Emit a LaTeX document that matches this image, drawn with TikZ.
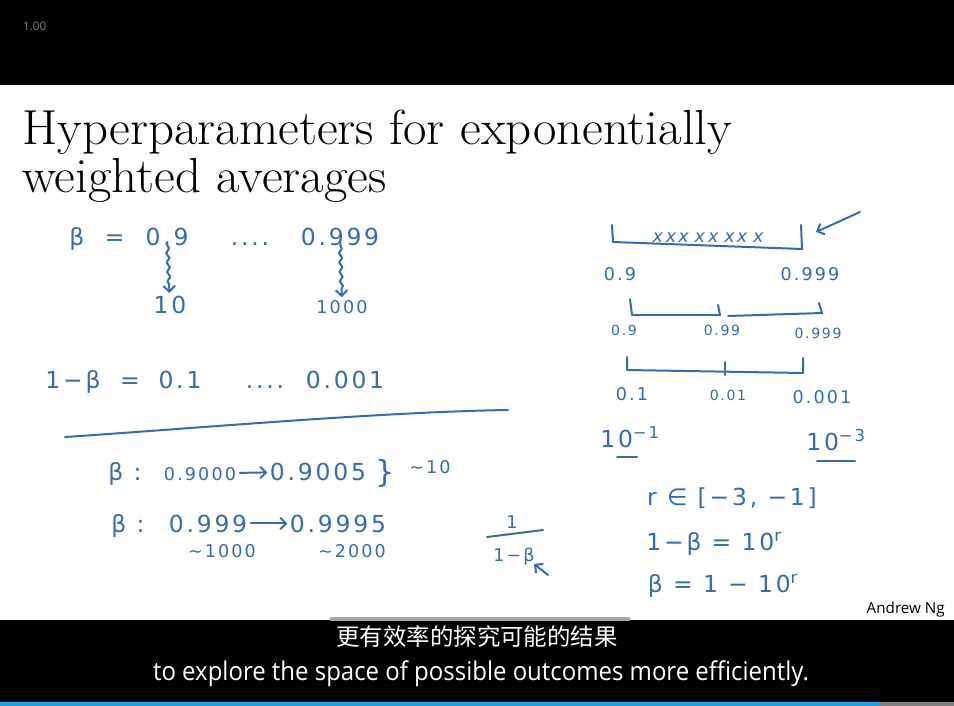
\documentclass[tikz,border=0pt]{standalone}
\usepackage{fontspec}
\newfontfamily\hand[LetterSpace=12]{DejaVu Sans}
\newfontfamily\subs{Open Sans}
\newfontfamily\cjk{Noto Sans CJK SC}
\usetikzlibrary{arrows.meta,decorations.pathmorphing}
\definecolor{ink}{RGB}{52,108,180}
\definecolor{barblue}{RGB}{30,160,225}
\begin{document}
\begin{tikzpicture}[x=0.03cm,y=-0.03cm]
    \tikzset{%
        h/.style={text=ink, font=\hand\fontsize{20}{22}\selectfont, inner sep=0pt, anchor=base},
        hs/.style={h, font=\hand\fontsize{15}{17}\selectfont},
        ht/.style={h, font=\hand\fontsize{12}{14}\selectfont},
        l/.style={draw=ink, line width=1.7pt, line cap=round, line join=round},
        e/.style={l, -{Straight Barb[length=5pt,width=10pt]}, shorten <=3pt, shorten >=2pt},
        w/.style={e, decorate, decoration={snake, amplitude=1.3pt, segment length=8pt, post length=7pt}},
        ttl/.style={font=\fontsize{42}{46}\selectfont, anchor=base west, inner sep=0pt, xscale=1.035}%
        }
    % frame
    \useasboundingbox (0,0) rectangle (954,706);
    \fill[black] (0,0) rectangle (954,85);
    \fill[white] (0,85) rectangle (954,620);
    \fill[black] (0,620) rectangle (954,706);
    \fill[gray!70] (330,617) rectangle (630,621);
    \fill[barblue] (0,702) rectangle (880,706);
    \fill[gray] (880,702) rectangle (954,706);
    \node[text=gray, font=\subs\fontsize{10}{11}\selectfont, anchor=base west](spd)at(19,31){1.00};
    % title
    \node[ttl, text depth=0pt](t1)at(22,145){Hyperparameters for exponentially};
    \node[ttl](t2)at(22,192){weighted averages};
    % left: range of beta
    \node[h](b0)at(97,245){β\ \ =};
    \node[h](a1)at(167,245){0.9};
    \node[h](d1)at(250,245){....};
    \node[h](a2)at(340,245){0.999};
    \node[h](c1)at(170,313){10};
    \node[hs](c2)at(342,313){1000};
    \node[h](g0)at(73,388){1−β};
    \node[h](g1)at(130,388){=};
    \node[h](g2)at(180,388){0.1};
    \node[h](g3)at(265,388){....};
    \node[h](g4)at(345,388){0.001};
    \path
    (a1)edge[w](c1)
    (a2)edge[w](c2);
    \draw[l] (65,437) .. controls (200,428) and (380,412) .. (508,410);
    % left: sensitivity
    \node[h](p1)at(125,480){β :};
    \node[hs](v1)at(200,480){0.9000};
    \node[h](v2)at(318,480){0.9005};
    \node[h, font=\hand\fontsize{26}{28}\selectfont](br)at(385,482){\}};
    \node[hs](s1)at(430,473){∼10};
    \node[h](p2)at(128,532){β :};
    \node[h](v3)at(208,532){0.999};
    \node[h](v4)at(338,532){0.9995};
    \node[hs](s2)at(222,557){∼1000};
    \node[hs](s3)at(352,557){∼2000};
    \path
    (v1)edge[e](v2)
    (v3)edge[e](v4);
    \node[hs](f1)at(512,528){1};
    \node[hs](f2)at(514,561){1−β};
    \draw[l] (487,537) -- (543,530);
    \coordinate (k1) at (548,575);
    \coordinate (k2) at (534,564);
    \draw[e, shorten <=0pt, shorten >=0pt] (k1) -- (k2);
    % right: sampling scale
    \draw[l] (612,225) -- (613,242) -- (802,249) -- (801,225);
    \node[hs, font=\hand\itshape\fontsize{15}{17}\selectfont](xs)at(708,242){x\,xx\,\,x\,x\,\,xx\,\,x};
    \coordinate (q1) at (860,212);
    \coordinate (q2) at (816,232);
    \draw[e, shorten <=0pt, shorten >=0pt] (q1) -- (q2);
    \node[hs](r1)at(620,280){0.9};
    \node[hs](r2)at(810,280){0.999};
    \draw[l] (630,299) -- (632,315) -- (720,315) -- (718,305);
    \draw[l] (728,316) -- (822,313) -- (819,303);
    \node[ht](r3)at(624,335){0.9};
    \node[ht](r4)at(722,335){0.99};
    \node[ht](r5)at(818,338){0.999};
    \draw[l] (627,357) -- (627,370) -- (803,373) -- (803,358);
    \draw[l] (725,362) -- (725,375);
    \node[hs](r6)at(632,400){0.1};
    \node[ht](r7)at(728,400){0.01};
    \node[hs](r8)at(822,403){0.001};
    \node[h](e1)at(630,447){10\textsuperscript{−1}};
    \node[h](e2)at(836,450){10\textsuperscript{−3}};
    \draw[l] (617,457) -- (637,457);
    \draw[l] (817,461) -- (855,461);
    \node[h](m1)at(732,505){r ∈ [−3, −1]};
    \node[h](m2)at(714,550){1−β = 10\textsuperscript{r}};
    \node[h](m3)at(723,592){β = 1 − 10\textsuperscript{r}};
    \node[font=\subs\fontsize{13}{15}\selectfont, anchor=base east, inner sep=0pt](an)at(945,613){Andrew Ng};
    % subtitles
    \node[text=white, font=\cjk\fontsize{20}{22}\selectfont, inner sep=0pt, anchor=base](z1)at(477,645){更有效率的探究可能的结果};
    \node[text=white, font=\subs\fontsize{22}{24}\selectfont, inner sep=0pt, anchor=base, xscale=0.93](z2)at(481,680){to explore the space of possible outcomes more efficiently.};
\end{tikzpicture}
\end{document}
